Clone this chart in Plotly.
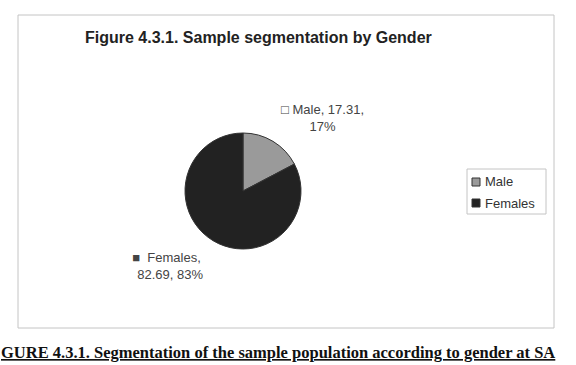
import plotly.graph_objects as go

categories = ["Male", "Females"]
values = [17.31, 82.69]
colors = ["#9a9a9a", "#222222"]
label_marks = ["□", "■"]

title_text = "Figure 4.3.1. Sample segmentation by Gender"
caption_text = "GURE 4.3.1. Segmentation of the sample population according to gender at SA"

W, H = 576, 365
fig = go.Figure()

cx, cy, r = 243, 191, 58
fig.add_trace(go.Pie(
    labels=categories, values=values, sort=False, direction="clockwise",
    marker=dict(colors=colors, line=dict(color="#333333", width=1)),
    textinfo="none", hoverinfo="label+value+percent", showlegend=False,
    domain=dict(x=[(cx - r) / W, (cx + r) / W], y=[(H - cy - r) / H, (H - cy + r) / H]),
))

total = sum(values)
label_pos = [(322, 118), (166, 266)]
for cat, val, mk, (lx, ly) in zip(categories, values, label_marks, label_pos):
    pct = round(val / total * 100)
    if cat == "Male":
        txt = f"{mk} {cat}, {val:.2f},<br>{pct}%"
    else:
        txt = f"{mk}  {cat},<br>  {val:.2f}, {pct}%"
    fig.add_annotation(x=lx / W, y=1 - ly / H, xref="paper", yref="paper",
                       xanchor="center", yanchor="middle",
                       text=txt, showarrow=False, align="center",
                       font=dict(family="Liberation Sans, Arial", size=13, color="#444444"))

fig.add_annotation(x=258 / W, y=1 - 37 / H, xref="paper", yref="paper",
                   xanchor="center", yanchor="middle",
                   text=f"<b>{title_text}</b>", showarrow=False,
                   font=dict(family="Liberation Sans, Arial", size=16, color="#222222"))

fig.add_annotation(x=-1 / W, y=1 - 352 / H, xref="paper", yref="paper",
                   xanchor="left", yanchor="middle",
                   text=f"<b><u>{caption_text}</u></b>", showarrow=False,
                   font=dict(family="Liberation Serif, Times New Roman", size=16.5, color="#111111"))

# chart area border
fig.add_shape(type="rect", xref="paper", yref="paper",
              x0=18 / W, x1=554 / W, y0=1 - 328 / H, y1=1 - 15 / H,
              line=dict(color="#c4c4c4", width=1))

# legend (drawn manually to match the compact Excel legend)
lg_x0, lg_y0, lg_x1, lg_y1 = 467, 169, 546, 214
fig.add_shape(type="rect", xref="paper", yref="paper",
              x0=lg_x0 / W, x1=lg_x1 / W, y0=1 - lg_y1 / H, y1=1 - lg_y0 / H,
              line=dict(color="#c4c4c4", width=1), fillcolor="white")
for i, (cat, col) in enumerate(zip(categories, colors)):
    yc = 182 + i * 21
    fig.add_shape(type="rect", xref="paper", yref="paper",
                  x0=472 / W, x1=480 / W, y0=1 - (yc + 4) / H, y1=1 - (yc - 4) / H,
                  line=dict(color="#333333", width=1), fillcolor=col)
    fig.add_annotation(x=483 / W, y=1 - yc / H, xref="paper", yref="paper",
                       xanchor="left", yanchor="middle", text=cat, showarrow=False,
                       font=dict(family="Liberation Sans, Arial", size=13, color="#333333"))

fig.update_layout(
    width=W, height=H, margin=dict(l=0, r=0, t=0, b=0),
    paper_bgcolor="white", plot_bgcolor="white",
    showlegend=False,
)

fig.write_html("out.html")
